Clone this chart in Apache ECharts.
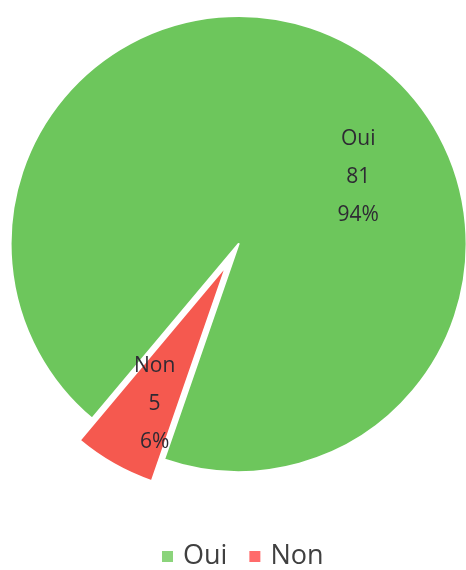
<!DOCTYPE html>
<html>
<head>
<meta charset="utf-8">
<script src="https://cdn.jsdelivr.net/npm/echarts@6/dist/echarts.min.js"></script>
<style>html,body{margin:0;padding:0;background:#fff}#c{width:466px;height:570px}</style>
</head>
<body>
<div id="c"></div>
<script>
var categories = ['Oui', 'Non'];
var values = [81, 5];
var sliceColors = ['#6dc65c', '#f5594f'];
var legendColors = ['#8bd47b', '#ff6b6b'];

var chart = echarts.init(document.getElementById('c'));
var labelOffsets = [[62, 35], [-14, 37]];
chart.setOption({
  animation: false,
  legend: {
    bottom: -5,
    left: 155,
    itemWidth: 13,
    itemHeight: 13,
    itemGap: 20,
    icon: 'rect',
    selectedMode: false,
    textStyle: { fontSize: 27, color: '#404040', fontFamily: 'Open Sans', padding: [0, 0, 0, 4] },
    data: categories.map(function (c, i) { return { name: c, itemStyle: { color: legendColors[i] } }; })
  },
  series: [{
    type: 'pie',
    center: ['51.2%', '42.8%'],
    radius: 228,
    startAngle: 230,
    selectedMode: 'single',
    selectedOffset: 25,
    percentPrecision: 0,
    emphasis: { disabled: true },
    itemStyle: { borderColor: '#fff', borderWidth: 2 },
    label: {
      position: 'inside',
      formatter: '{b}\n{c}\n{d}%',
      fontSize: 21,
      lineHeight: 38,
      color: '#2e2a33',
      fontFamily: 'Open Sans'
    },
    labelLine: { show: false },
    labelLayout: function (p) {
      var o = labelOffsets[p.dataIndex];
      return { dx: o[0], dy: o[1] };
    },
    data: categories.map(function (c, i) {
      return { name: c, value: values[i], selected: i === 1, itemStyle: { color: sliceColors[i] } };
    })
  }]
});
</script>
</body>
</html>
